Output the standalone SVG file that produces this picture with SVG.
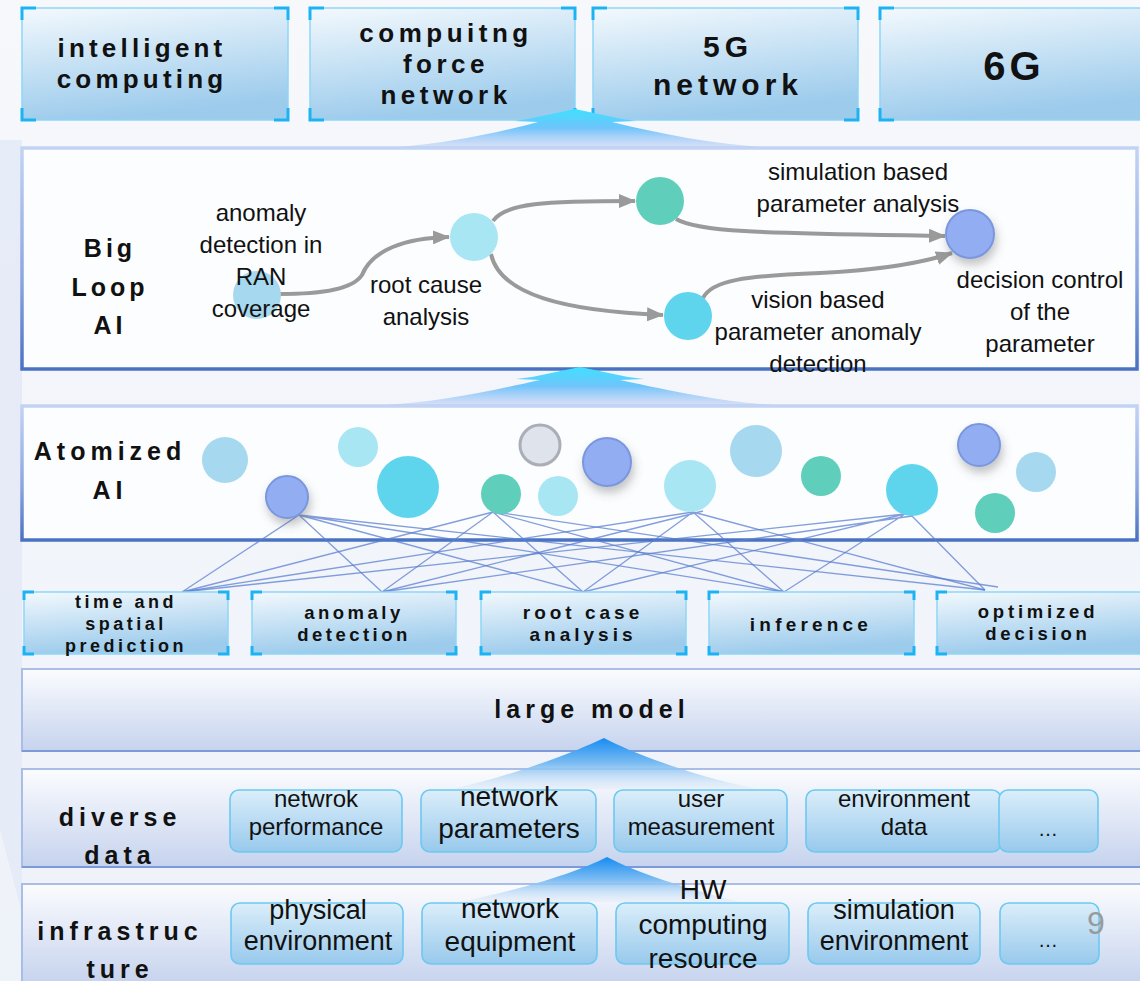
<svg xmlns="http://www.w3.org/2000/svg" width="1140" height="981" viewBox="0 0 1140 981">
<defs>
<linearGradient id="bg" x1="0" y1="0" x2="0" y2="1"><stop offset="0" stop-color="#f7f8fc"/><stop offset="1" stop-color="#eef2f9"/></linearGradient>
<linearGradient id="boxg" x1="0" y1="0" x2="0.25" y2="1"><stop offset="0" stop-color="#f3f9fd"/><stop offset="1" stop-color="#9ccbec"/></linearGradient>
<linearGradient id="itemg" x1="0" y1="0" x2="0" y2="1"><stop offset="0" stop-color="#dbeefa"/><stop offset="1" stop-color="#98c9ec"/></linearGradient>
<linearGradient id="panelg" x1="0" y1="0" x2="0" y2="1"><stop offset="0" stop-color="#fbfcfe"/><stop offset="1" stop-color="#c6d3ee"/></linearGradient>
<linearGradient id="frameg" x1="0" y1="0" x2="0" y2="1"><stop offset="0" stop-color="#c3d3f3"/><stop offset="0.6" stop-color="#8aa6e0"/><stop offset="1" stop-color="#4a72c2"/></linearGradient>
<linearGradient id="fan1" x1="0" y1="0" x2="0" y2="1"><stop offset="0" stop-color="#3fe0ff"/><stop offset="0.5" stop-color="#6fc4fb"/><stop offset="1" stop-color="#b7c9f4" stop-opacity="0.5"/></linearGradient>
<linearGradient id="fan2" x1="0" y1="0" x2="0" y2="1"><stop offset="0" stop-color="#168cf2"/><stop offset="0.5" stop-color="#7cbcf2"/><stop offset="1" stop-color="#d8e6f7" stop-opacity="0.3"/></linearGradient>
<filter id="sh" x="-60%" y="-60%" width="220%" height="240%"><feDropShadow dx="2" dy="6" stdDeviation="5" flood-color="#555" flood-opacity="0.35"/></filter>
<marker id="ah" markerUnits="userSpaceOnUse" markerWidth="17" markerHeight="14" refX="16" refY="7" orient="auto"><path d="M0,0 L17,7 L0,14 Z" fill="#9a9a9a"/></marker>
<style>
.box{fill:url(#boxg);stroke:#8fd6f6;stroke-width:1.5}
.crn{fill:none;stroke:#1cb3f4;stroke-width:3}
.panel{fill:#fcfdff;stroke:url(#frameg);stroke-width:3.5}
.lay{fill:url(#panelg);stroke:#a9bde6;stroke-width:2}
.item{fill:url(#itemg);stroke:#6cc9f0;stroke-width:1.6}
.hb{font-family:"Liberation Sans",Arial,sans-serif;font-weight:bold;fill:#111;text-anchor:middle}
.tx{font-family:"Liberation Sans",Arial,sans-serif;fill:#111;text-anchor:middle;font-size:24px}
.it{font-family:"Liberation Sans",Arial,sans-serif;fill:#111;text-anchor:middle}
.arr{fill:none;stroke:#9a9a9a;stroke-width:4;marker-end:url(#ah)}
.net{stroke:#5a7fd0;stroke-width:1.3;stroke-opacity:0.75;fill:none}
.cA{fill:#a6d8ef}.cB{fill:#a9e6f4}.cC{fill:#5fd5ed}.cD{fill:#5fcfbb}
.cE{fill:#93adf2;stroke:#7a97de;stroke-width:2;filter:url(#sh)}
.cF{fill:#dfe3ec;stroke:#a9aeb9;stroke-width:3}
</style>
</defs>
<rect width="1140" height="981" fill="url(#bg)"/>
<path d="M0,140 L22,140 L22,981 L40,981 L0,830 Z" fill="#e2e9f6" opacity="0.8"/>

<g id="top-intelligent-computing">
<rect class="box" x="22" y="8" width="266" height="112"/>
<path class="crn" d="M22,20 V8 H36 M274,8 H288 V20 M288,108 V120 H274 M36,120 H22 V108"/>
<text class="hb" font-size="26" letter-spacing="4.2" x="142" y="57">intelligent</text>
<text class="hb" font-size="26" letter-spacing="4.2" x="142" y="88">computing</text>
</g>
<g id="top-computing-force-network">
<rect class="box" x="310" y="8" width="265" height="112"/>
<path class="crn" d="M310,20 V8 H324 M561,8 H575 V20 M575,108 V120 H561 M324,120 H310 V108"/>
<text class="hb" font-size="26" letter-spacing="4.5" x="446" y="42">compuitng</text>
<text class="hb" font-size="26" letter-spacing="4.5" x="446" y="73">force</text>
<text class="hb" font-size="26" letter-spacing="4.5" x="446" y="104">network</text>
</g>
<g id="top-5g-network">
<rect class="box" x="593" y="8" width="265" height="112"/>
<path class="crn" d="M593,20 V8 H607 M844,8 H858 V20 M858,108 V120 H844 M607,120 H593 V108"/>
<text class="hb" font-size="30" letter-spacing="5" x="728" y="57">5G</text>
<text class="hb" font-size="30" letter-spacing="5" x="728" y="95">network</text>
</g>
<g id="top-6g">
<rect class="box" x="880" y="8" width="262" height="112"/>
<path class="crn" d="M880,20 V8 H894 M880,108 V120 H894"/>
<text class="hb" font-size="40" letter-spacing="4" x="1014" y="80">6G</text>
</g>

<g id="big-loop-ai">
<rect class="panel" x="22" y="148" width="1115" height="221"/>
<text class="hb" font-size="25" letter-spacing="4" x="110" y="257">Big</text>
<text class="hb" font-size="25" letter-spacing="4" x="110" y="296">Loop</text>
<text class="hb" font-size="25" letter-spacing="4" x="110" y="334">AI</text>
</g>

<g id="atomized-ai">
<rect class="panel" x="22" y="406" width="1115" height="134"/>
<text class="hb" font-size="25" letter-spacing="5" x="110" y="460">Atomized</text>
<text class="hb" font-size="25" letter-spacing="5" x="110" y="499">AI</text>
</g>

<g id="large-model">
<rect class="lay" x="22" y="669" width="1120" height="82"/>
<line x1="22" y1="751" x2="1140" y2="751" stroke="#7d9ad8" stroke-width="2"/>
<text class="hb" font-size="25" letter-spacing="5" x="592" y="718">large model</text>
</g>

<g id="diverse-data">
<rect class="lay" x="22" y="769" width="1120" height="98"/>
<line x1="22" y1="867" x2="1140" y2="867" stroke="#7d9ad8" stroke-width="2"/>
<text class="hb" font-size="25" letter-spacing="5" x="120" y="826">diverse</text>
<text class="hb" font-size="25" letter-spacing="5" x="120" y="864">data</text>
</g>

<g id="infrastructure">
<rect class="lay" x="22" y="884" width="1120" height="100"/>
<text class="hb" font-size="25" letter-spacing="5" x="120" y="940">infrastruc</text>
<text class="hb" font-size="25" letter-spacing="5" x="120" y="978">ture</text>
</g>

<g id="connectors">
<path d="M575,109 L622,119 L636,121 L612,122 C665,135 710,143 760,147 L400,147 C445,143 490,135 538,122 L514,121 L528,119 Z" fill="url(#fan1)"/>
<path d="M580,367 L628,377 L644,379 L620,380 C680,393 725,402 775,405 L385,405 C438,402 482,393 540,380 L516,379 L532,377 Z" fill="url(#fan1)"/>
<path d="M604,738 C630,752 690,775 756,789 L452,789 C515,775 575,752 604,738 Z" fill="url(#fan2)"/>
<path d="M607,857 C635,872 690,890 740,902 L460,902 C520,890 578,872 607,857 Z" fill="url(#fan2)"/>

<path class="arr" d="M280,294 C320,294 352,290 362,275 C372,250 405,238 449,237"/>
<path class="arr" d="M493,221 C505,203 545,201 635,201"/>
<path class="arr" d="M491,254 C500,295 565,311 663,315"/>
<path class="arr" d="M676,219 C700,233 770,233 945,236"/>
<path class="arr" d="M703,298 C712,280 745,276 820,273 C880,270 925,262 952,253"/>

<g class="net">
<path d="M299,515 L182,592 M299,515 L382,592 M299,515 L583,592 M299,515 L784,592 M299,515 L985,590"/>
<path d="M493,512 L182,592 M493,512 L382,592 M493,512 L583,592 M493,512 L784,592 M496,512 L998,587"/>
<path d="M693,512 L182,592 M703,511 L382,592 M693,512 L583,592 M693,512 L784,592 M693,512 L985,590"/>
<path d="M905,514 L182,592 M912,516 L382,592 M905,514 L583,592 M905,514 L784,592 M912,516 L985,590"/>
</g>
</g>

<g id="bl-anomaly"><circle class="cA" cx="257" cy="295" r="24"/>
<text class="tx" x="261" y="221">anomaly</text><text class="tx" x="261" y="253">detection in</text><text class="tx" x="261" y="285">RAN</text><text class="tx" x="261" y="317">coverage</text></g>
<g id="bl-root-cause"><circle class="cB" cx="474" cy="237" r="24"/>
<text class="tx" x="426" y="293">root cause</text><text class="tx" x="426" y="325">analysis</text></g>
<g id="bl-simulation"><circle class="cD" cx="660" cy="201" r="24"/>
<text class="tx" x="858" y="180">simulation based</text><text class="tx" x="858" y="212">parameter analysis</text></g>
<g id="bl-vision"><circle class="cC" cx="688" cy="316" r="24"/>
<text class="tx" x="818" y="308">vision based</text><text class="tx" x="818" y="340">parameter anomaly</text><text class="tx" x="818" y="372">detection</text></g>
<g id="bl-decision"><circle class="cE" cx="970" cy="234" r="24"/>
<text class="tx" x="1040" y="288">decision control</text><text class="tx" x="1040" y="320">of the</text><text class="tx" x="1040" y="352">parameter</text></g>

<g id="atoms">
<circle class="cA" cx="225" cy="460" r="23"/>
<circle class="cE" cx="287" cy="497" r="21"/>
<circle class="cB" cx="358" cy="447" r="20"/>
<circle class="cC" cx="408" cy="487" r="31"/>
<circle class="cF" cx="540" cy="445" r="20"/>
<circle class="cD" cx="501" cy="494" r="20"/>
<circle class="cB" cx="558" cy="496" r="20"/>
<circle class="cE" cx="607" cy="462" r="24"/>
<circle class="cB" cx="690" cy="486" r="26"/>
<circle class="cA" cx="756" cy="451" r="26"/>
<circle class="cD" cx="821" cy="476" r="20"/>
<circle class="cC" cx="912" cy="490" r="26"/>
<circle class="cE" cx="979" cy="445" r="21"/>
<circle class="cA" cx="1036" cy="472" r="20"/>
<circle class="cD" cx="995" cy="513" r="20"/>
</g>

<g id="cap-time-spatial">
<rect class="box" x="24" y="592" width="204" height="62"/>
<path class="crn" d="M24,600 V592 H34 M218,592 H228 V600 M228,646 V654 H218 M34,654 H24 V646"/>
<text class="hb" font-size="18" letter-spacing="3.5" x="126" y="608">time and</text>
<text class="hb" font-size="18" letter-spacing="3.5" x="126" y="630">spatial</text>
<text class="hb" font-size="18" letter-spacing="3.5" x="126" y="652">prediction</text>
</g>
<g id="cap-anomaly">
<rect class="box" x="252" y="592" width="204" height="62"/>
<path class="crn" d="M252,600 V592 H262 M446,592 H456 V600 M456,646 V654 H446 M262,654 H252 V646"/>
<text class="hb" font-size="18.5" letter-spacing="3.5" x="354" y="619">anomaly</text>
<text class="hb" font-size="18.5" letter-spacing="3.5" x="354" y="641">detection</text>
</g>
<g id="cap-root-case">
<rect class="box" x="481" y="592" width="205" height="62"/>
<path class="crn" d="M481,600 V592 H491 M676,592 H686 V600 M686,646 V654 H676 M491,654 H481 V646"/>
<text class="hb" font-size="19" letter-spacing="4" x="583" y="619">root case</text>
<text class="hb" font-size="19" letter-spacing="4" x="583" y="641">analysis</text>
</g>
<g id="cap-inference">
<rect class="box" x="709" y="592" width="205" height="62"/>
<path class="crn" d="M709,600 V592 H719 M904,592 H914 V600 M914,646 V654 H904 M719,654 H709 V646"/>
<text class="hb" font-size="19" letter-spacing="4.2" x="811" y="631">inference</text>
</g>
<g id="cap-optimized">
<rect class="box" x="937" y="592" width="205" height="62"/>
<path class="crn" d="M937,600 V592 H947 M947,654 H937 V646"/>
<text class="hb" font-size="18.5" letter-spacing="3.8" x="1038" y="618">optimized</text>
<text class="hb" font-size="18.5" letter-spacing="3.8" x="1038" y="640">decision</text>
</g>

<g id="dd-performance"><rect class="item" x="230" y="790" width="172" height="62" rx="9"/>
<text class="it" font-size="24" x="316" y="807">netwrok</text><text class="it" font-size="24" x="316" y="835">performance</text></g>
<g id="dd-parameters"><rect class="item" x="421" y="790" width="175" height="62" rx="9"/>
<text class="it" font-size="28" x="509" y="806">network</text><text class="it" font-size="28" x="509" y="838">parameters</text></g>
<g id="dd-user"><rect class="item" x="614" y="790" width="173" height="62" rx="9"/>
<text class="it" font-size="24" x="701" y="807">user</text><text class="it" font-size="24" x="701" y="835">measurement</text></g>
<g id="dd-environment"><rect class="item" x="806" y="790" width="195" height="62" rx="9"/>
<text class="it" font-size="24" x="904" y="807">environment</text><text class="it" font-size="24" x="904" y="835">data</text></g>
<g id="dd-more"><rect class="item" x="999" y="790" width="99" height="62" rx="9"/>
<text class="it" font-size="20" x="1048" y="836">…</text></g>

<g id="in-physical"><rect class="item" x="231" y="903" width="172" height="61" rx="9"/>
<text class="it" font-size="27" x="318" y="919">physical</text><text class="it" font-size="27" x="318" y="950">environment</text></g>
<g id="in-equipment"><rect class="item" x="422" y="903" width="175" height="61" rx="9"/>
<text class="it" font-size="28" x="510" y="918">network</text><text class="it" font-size="28" x="510" y="951">equipment</text></g>
<g id="in-hw"><rect class="item" x="616" y="903" width="173" height="61" rx="9"/>
<text class="it" font-size="28" x="703" y="899">HW</text><text class="it" font-size="28" x="703" y="934">computing</text><text class="it" font-size="28" x="703" y="968">resource</text></g>
<g id="in-simulation"><rect class="item" x="808" y="903" width="172" height="61" rx="9"/>
<text class="it" font-size="27" x="894" y="919">simulation</text><text class="it" font-size="27" x="894" y="950">environment</text></g>
<g id="in-more"><rect class="item" x="1000" y="903" width="99" height="61" rx="9"/>
<text class="it" font-size="20" x="1048" y="947">…</text></g>

<text x="1096" y="934" font-family="Liberation Sans,Arial,sans-serif" font-size="32" fill="#9a9a9a" text-anchor="middle">9</text>
</svg>
